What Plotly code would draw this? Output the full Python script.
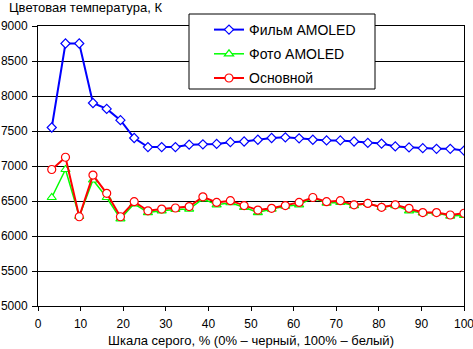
import plotly.graph_objects as go

# Grey-scale steps: 31 points from 1/31 to 31/31 of full scale, in percent
steps = list(range(1, 32))
gray_pct = [k * 100 / 31 for k in steps]

film_amoled = [7550, 8750, 8750, 7900, 7815, 7655, 7400, 7270, 7270, 7270,
               7305, 7310, 7315, 7340, 7350, 7375, 7400, 7410, 7395, 7375,
               7365, 7365, 7350, 7330, 7320, 7280, 7265, 7255, 7245, 7245,
               7220]
photo_amoled = [6550, 6950, 6280, 6800, 6550, 6245, 6460, 6335, 6360, 6380,
                6385, 6530, 6445, 6475, 6410, 6335, 6385, 6425, 6445, 6545,
                6470, 6480, 6435, 6465, 6410, 6435, 6360, 6330, 6330, 6285,
                6295]
basic = [6950, 7125, 6275, 6870, 6610, 6275, 6490, 6360, 6385, 6400,
         6420, 6560, 6480, 6505, 6435, 6370, 6395, 6435, 6480, 6550,
         6490, 6505, 6445, 6465, 6410, 6445, 6395, 6335, 6335, 6300,
         6325]

series_names = ["Фильм AMOLED", "Фото AMOLED", "Основной"]
x_ticks = list(range(0, 101, 10))
y_ticks = list(range(5000, 9001, 500))

FONT = "Liberation Sans, Arial, sans-serif"

fig = go.Figure()
fig.add_trace(go.Scatter(
    x=gray_pct, y=film_amoled, name=series_names[0], mode="lines+markers",
    line=dict(color="#0000ff", width=2),
    marker=dict(symbol="diamond", size=7, color="white",
                line=dict(color="#0000ff", width=1.2)),
    legendgroup="g1"))
fig.add_trace(go.Scatter(
    x=gray_pct, y=photo_amoled, name=series_names[1], mode="lines+markers",
    line=dict(color="#00ff00", width=1.5),
    marker=dict(symbol="triangle-up", size=8, color="white",
                line=dict(color="#00ff00", width=1.2)),
    legendgroup="g2"))
fig.add_trace(go.Scatter(
    x=gray_pct, y=basic, name=series_names[2], mode="lines+markers",
    line=dict(color="#ff0000", width=2),
    marker=dict(symbol="circle", size=8, color="white",
                line=dict(color="#ff0000", width=1.2)),
    legendgroup="g3"))

L, R, T, B = 38, 9, 26, 43
W, H = 473, 349
pw, ph = W - L - R, H - T - B


def px_x(p):
    return (p - L) / pw


def px_y(p):
    return (T + ph - p) / ph


fig.update_layout(
    width=W, height=H,
    margin=dict(l=L, r=R, t=T, b=B, pad=0),
    paper_bgcolor="white", plot_bgcolor="white",
    font=dict(family=FONT, size=12, color="black"),
    title=dict(text="Цветовая температура, К", xref="container", yref="container",
               x=9 / W, xanchor="left", y=1 - 7 / H, yanchor="middle",
               font=dict(family=FONT, size=13, color="black"),
               automargin=False),
    xaxis=dict(range=[0, 100], tickvals=x_ticks, showgrid=False,
               showline=True, linecolor="black", linewidth=1, mirror=True,
               ticks="outside", ticklen=4, tickcolor="black",
               tickfont=dict(size=12), zeroline=False, ticklabelstandoff=3,
               ticklabeloverflow="allow", automargin=False,
               title=dict(text="Шкала серого, % (0% – черный, 100% – белый)",
                          font=dict(size=13), standoff=5)),
    yaxis=dict(range=[5000, 9000], tickvals=y_ticks, showgrid=True,
               gridcolor="black", gridwidth=1,
               showline=True, linecolor="black", linewidth=1, mirror=True,
               ticks="outside", ticklen=5, tickcolor="black",
               tickfont=dict(size=12), zeroline=False, ticklabelstandoff=2,
               ticklabeloverflow="allow", automargin=False),
    legend=dict(x=px_x(209), xanchor="left", y=px_y(14), yanchor="top",
                bgcolor="rgba(0,0,0,0)", borderwidth=0,
                font=dict(family=FONT, size=14, color="black"),
                traceorder="grouped", tracegroupgap=3),
    showlegend=True,
    shapes=[dict(type="rect", xref="paper", yref="paper",
                 x0=px_x(189), x1=px_x(375), y0=px_y(89), y1=px_y(14),
                 fillcolor="white", line=dict(color="black", width=1),
                 layer="above")],
)

fig.write_html("out.html")
